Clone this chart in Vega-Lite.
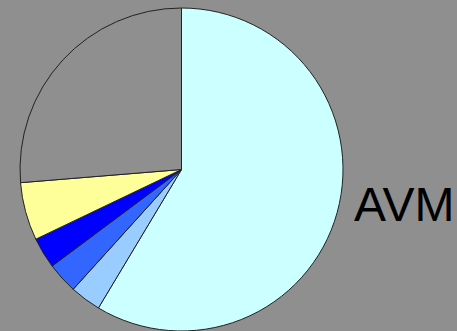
{
  "$schema": "https://vega.github.io/schema/vega-lite/v6.json",
  "autosize": {"type": "none"},
  "padding": {"left": 0, "top": 8, "right": 94, "bottom": 0},
  "width": 363,
  "height": 323,
  "background": "#8f8f8f",
  "config": {"view": {"stroke": null}},
  "title": {
    "text": "AVM",
    "orient": "top",
    "anchor": "start",
    "frame": "group",
    "offset": 0,
    "baseline": "alphabetic",
    "dx": 354,
    "dy": 263,
    "font": "Liberation Sans",
    "fontSize": 48,
    "fontWeight": "normal",
    "color": "#000000"
  },
  "data": {
    "values": [
      {"category": "A", "value": 58.6, "idx": 1},
      {"category": "B", "value": 3.1, "idx": 2},
      {"category": "C", "value": 3.1, "idx": 3},
      {"category": "D", "value": 3.1, "idx": 4},
      {"category": "E", "value": 5.8, "idx": 5},
      {"category": "F", "value": 26.3, "idx": 6}
    ]
  },
  "mark": {"type": "arc", "outerRadius": 161.5, "stroke": "#222222", "strokeWidth": 1},
  "encoding": {
    "theta": {"field": "value", "type": "quantitative", "stack": true},
    "order": {"field": "idx", "type": "quantitative"},
    "color": {
      "field": "category",
      "type": "nominal",
      "legend": null,
      "scale": {
        "domain": ["A", "B", "C", "D", "E", "F"],
        "range": ["#ccffff", "#99ccff", "#3366ff", "#0000ff", "#ffff99", "#8f8f8f"]
      }
    }
  }
}
